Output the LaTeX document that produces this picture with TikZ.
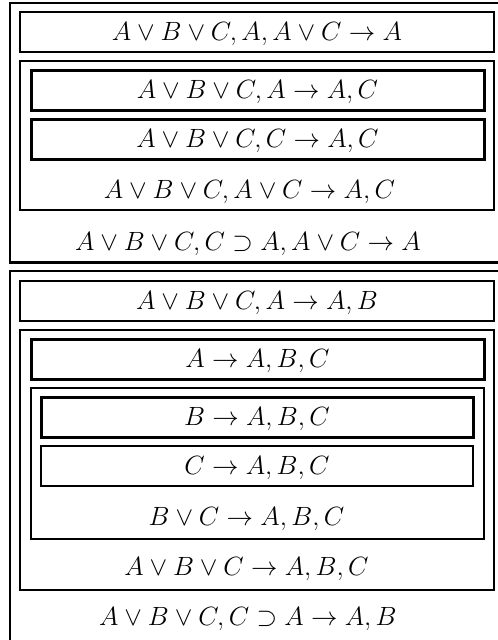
\RequirePackage{fix-cm}
\documentclass[tikz,border=0pt]{standalone}
\begin{document}
\begin{tikzpicture}[x=1pt,y=-1pt,
  every node/.style={font=\fontsize{26.4pt}{32pt}\selectfont},
  box/.style={draw, line width=2pt, minimum height=40pt, inner sep=0pt,
    text height=18pt, text depth=2pt},
  wide/.style={minimum width=474pt},
  mid/.style={minimum width=453pt},
  narrow/.style={minimum width=432pt},
  heavy/.style={line width=3pt},
  frame/.style={draw, line width=2pt},
  lab/.style={anchor=base, inner sep=0pt}]
\useasboundingbox (0,0) rectangle (498,640);
\clip (0,0) rectangle (498,640);
% ---------- first outer frame ----------
\draw[frame] (505,3) -- (10,3) -- (10,262);
\draw[line width=3pt] (9,262) -- (505,262);
\node[box,wide] (b11) at (257,32) {$A \vee B \vee C, A, A \vee C \rightarrow A$};
\draw[frame] (20,61) rectangle (494,210);
\node[box,mid,heavy] (b121) at (257.5,90) {$A \vee B \vee C, A \rightarrow A, C$};
\node[box,mid,heavy] (b122) at (257.5,139) {$A \vee B \vee C, C \rightarrow A, C$};
\node[lab] (l12) at (249.5,198) {$A \vee B \vee C, A \vee C \rightarrow A, C$};
\node[lab] (l1) at (248,250) {$A \vee B \vee C, C \supset A, A \vee C \rightarrow A$};
% ---------- second outer frame ----------
\draw[frame] (505,271) -- (10,271) -- (10,645);
\node[box,wide] (b21) at (257,301) {$A \vee B \vee C, A \rightarrow A, B$};
\draw[frame] (20,330) rectangle (494,590);
\node[box,mid,heavy] (b221) at (257.5,359) {$A \rightarrow A, B, C$};
\draw[frame, line width=2.5pt] (31,388) rectangle (484,539);
\node[box,narrow,heavy] (b2221) at (257,417) {$B \rightarrow A, B, C$};
\node[box,narrow,line width=2.5pt] (b2222) at (257,466) {$C \rightarrow A, B, C$};
\node[lab] (l222) at (246.5,525) {$B \vee C \rightarrow A, B, C$};
\node[lab] (l22) at (246.5,575) {$A \vee B \vee C \rightarrow A, B, C$};
\node[lab] (l2) at (248,625) {$A \vee B \vee C, C \supset A \rightarrow A, B$};
\end{tikzpicture}
\end{document}
